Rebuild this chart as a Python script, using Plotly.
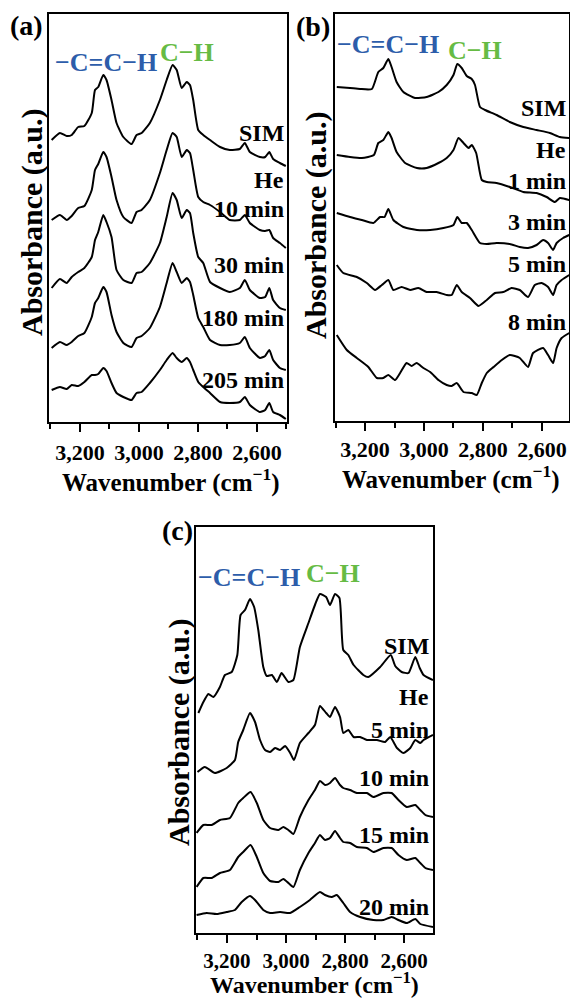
import plotly.graph_objects as go

# ---------------- data ----------------
# Panel (a)
WN_A = [3296, 3268, 3245, 3228, 3206, 3185, 3160, 3149, 3138, 3121, 3110, 3093, 3076, 3053, 3025,
        3008, 2991, 2963, 2929, 2906, 2886, 2872, 2855, 2838, 2827, 2816, 2799, 2782, 2759, 2725,
        2692, 2658, 2641, 2624, 2590, 2572, 2558, 2545, 2522, 2502]
A_SIM = [282, 289, 286, 287, 295, 296, 309, 332, 335, 347, 342, 322, 299, 285, 278,
         287, 289, 299, 322, 342, 357, 352, 334, 340, 337, 322, 292, 287, 282, 275,
         272, 273, 279, 270, 265, 265, 270, 263, 259, 256]
A_10 = [202, 207, 202, 206, 214, 216, 232, 252, 258, 270, 265, 245, 222, 205, 199,
        210, 212, 222, 249, 272, 289, 285, 265, 272, 269, 252, 225, 220, 217, 210,
        202, 202, 207, 199, 192, 191, 192, 184, 179, 174]
A_30 = [134, 143, 139, 145, 150, 154, 165, 182, 190, 207, 200, 185, 152, 142, 139,
        149, 150, 159, 179, 205, 229, 222, 204, 212, 209, 189, 165, 159, 140, 134,
        130, 134, 142, 132, 124, 125, 134, 122, 114, 112]
A_180 = [74, 80, 77, 80, 86, 89, 105, 119, 124, 135, 130, 107, 90, 79, 75,
         84, 86, 94, 115, 139, 159, 150, 139, 144, 140, 127, 104, 95, 82, 77,
         77, 79, 85, 74, 64, 66, 72, 62, 54, 52]
A_205 = [32, 35, 33, 37, 36, 40, 47, 47, 48, 54, 51, 39, 29, 25, 22,
         29, 30, 39, 52, 62, 69, 64, 60, 64, 60, 52, 40, 35, 29, 20,
         19, 20, 25, 17, 10, 12, 19, 10, 7, 3]

# Panel (b)
WN_B_SIM = [3296, 3251, 3217, 3177, 3155, 3138, 3121, 3110, 3093, 3070, 3030, 2991, 2951, 2923, 2900,
            2887, 2872, 2855, 2838, 2827, 2810, 2793, 2754, 2709, 2663, 2618, 2573, 2539, 2507]
B_SIM = [334, 333, 332, 332, 349, 353, 362, 354, 339, 329, 323, 324, 329, 336, 346,
         357, 353, 345, 342, 336, 314, 311, 306, 299, 294, 291, 288, 284, 283]
WN_B_1 = [3296, 3251, 3211, 3170, 3155, 3138, 3121, 3110, 3093, 3064, 3024, 2991, 2951, 2923, 2900,
          2883, 2866, 2849, 2838, 2823, 2804, 2787, 2754, 2709, 2663, 2618, 2584, 2556, 2539, 2507]
B_1 = [266, 264, 263, 266, 278, 281, 289, 283, 269, 258, 253, 253, 258, 263, 271,
       283, 278, 273, 276, 268, 241, 239, 238, 234, 229, 228, 224, 219, 223, 221]
WN_B_3 = [3296, 3251, 3211, 3172, 3149, 3134, 3121, 3104, 3070, 3024, 2979, 2934, 2900, 2887, 2872,
          2855, 2838, 2810, 2787, 2754, 2709, 2675, 2647, 2618, 2596, 2579, 2562, 2550, 2528, 2507]
B_3 = [208, 204, 201, 198, 204, 204, 212, 201, 194, 191, 191, 193, 196, 204, 198,
       198, 191, 178, 177, 178, 177, 174, 173, 176, 181, 178, 171, 178, 183, 186]
WN_B_5 = [3296, 3274, 3228, 3194, 3166, 3143, 3121, 3104, 3076, 3047, 3019, 2991, 2957, 2923, 2906,
          2889, 2872, 2844, 2815, 2787, 2759, 2731, 2703, 2675, 2647, 2624, 2601, 2579, 2562, 2550,
          2533, 2507]
B_5 = [156, 148, 144, 138, 131, 136, 141, 131, 134, 131, 133, 129, 129, 126, 126,
       136, 129, 123, 115, 121, 128, 129, 133, 131, 124, 136, 138, 134, 126, 136,
       141, 146]
WN_B_8 = [3296, 3262, 3228, 3189, 3160, 3138, 3121, 3098, 3081, 3059, 3042, 3025, 3002, 2979, 2951,
          2923, 2906, 2889, 2866, 2838, 2821, 2804, 2787, 2764, 2736, 2709, 2675, 2647, 2630, 2596,
          2579, 2562, 2550, 2533, 2507]
B_8 = [86, 71, 63, 54, 43, 43, 46, 41, 48, 58, 55, 58, 53, 49, 41,
       36, 35, 38, 29, 28, 26, 38, 48, 54, 61, 66, 63, 54, 68, 73,
       66, 58, 73, 83, 88]

# Panel (c)
WN_C_SIM = [3297, 3280, 3263, 3246, 3224, 3207, 3184, 3165, 3154, 3139, 3122, 3108, 3094, 3077, 3065,
            3048, 3031, 3015, 2992, 2975, 2953, 2924, 2902, 2885, 2864, 2851, 2834, 2819, 2806, 2789,
            2771, 2738, 2721, 2681, 2645, 2630, 2608, 2585, 2562, 2547, 2534, 2502]
C_SIM = [220, 231, 239, 236, 246, 258, 261, 278, 318, 323, 334, 326, 303, 266, 257,
         258, 251, 260, 251, 253, 286, 310, 328, 339, 336, 328, 339, 335, 283, 278,
         268, 258, 256, 266, 278, 267, 261, 260, 276, 265, 258, 253]
WN_C_5 = [3300, 3275, 3241, 3201, 3173, 3162, 3145, 3122, 3105, 3088, 3071, 3054, 3037, 3020, 3003,
          2986, 2973, 2953, 2924, 2902, 2885, 2864, 2851, 2834, 2817, 2806, 2789, 2771, 2749, 2726,
          2692, 2664, 2647, 2624, 2602, 2579, 2562, 2545, 2534, 2502]
C_5 = [161, 166, 160, 165, 173, 191, 203, 220, 211, 193, 183, 181, 185, 183, 187,
       180, 173, 190, 200, 208, 227, 220, 216, 226, 216, 200, 203, 196, 196, 193,
       193, 191, 196, 185, 180, 185, 193, 190, 193, 198]
WN_C_10 = [3303, 3280, 3252, 3224, 3190, 3162, 3145, 3120, 3099, 3077, 3054, 3026, 3009, 2992, 2975,
           2953, 2924, 2902, 2885, 2868, 2851, 2834, 2817, 2806, 2783, 2760, 2726, 2704, 2670, 2642,
           2619, 2591, 2562, 2545, 2528, 2502]
C_10 = [100, 108, 108, 113, 115, 130, 135, 141, 130, 113, 105, 103, 106, 103, 99,
        116, 133, 143, 152, 148, 150, 155, 148, 145, 143, 140, 140, 136, 140, 140,
        133, 126, 128, 123, 118, 116]
C_15 = [46, 55, 55, 60, 63, 76, 81, 88, 76, 60, 52, 51, 54, 50, 46,
        63, 80, 90, 98, 93, 95, 102, 95, 91, 90, 86, 85, 81, 85, 85,
        78, 73, 75, 70, 65, 63]
WN_C_20 = [3303, 3269, 3235, 3201, 3173, 3150, 3122, 3105, 3077, 3054, 3020, 2986, 2953, 2919, 2885,
           2868, 2845, 2828, 2806, 2783, 2749, 2704, 2670, 2642, 2619, 2591, 2562, 2545, 2502]
C_20 = [18, 20, 19, 21, 23, 31, 37, 33, 23, 20, 21, 20, 26, 33, 41,
        38, 36, 38, 30, 21, 16, 13, 13, 16, 13, 10, 14, 9, 6]

TICK_VALS = [3200, 3000, 2800, 2600]
TICK_TEXT = ["3,200", "3,000", "2,800", "2,600"]
MINOR_VALS = [3300, 3100, 2900, 2700, 2500]

LABELS_A = ["SIM", "He", "10 min", "30 min", "180 min", "205 min"]
LABELS_B = ["SIM", "He", "1 min", "3 min", "5 min", "8 min"]
LABELS_C = ["SIM", "He", "5 min", "10 min", "15 min", "20 min"]

# ---------------- layout helpers ----------------
W, H = 570, 999
FONT = "Liberation Serif"
BLUE = "#2D5DAA"
GREEN = "#66BB44"


def fx(x):
    return x / W


def fy(y):
    return 1 - y / H


fig = go.Figure()

series = [
    ("x", "y", [(WN_A, A_SIM), (WN_A, A_10), (WN_A, A_30), (WN_A, A_180), (WN_A, A_205)]),
    ("x2", "y2", [(WN_B_SIM, B_SIM), (WN_B_1, B_1), (WN_B_3, B_3), (WN_B_5, B_5), (WN_B_8, B_8)]),
    ("x3", "y3", [(WN_C_SIM, C_SIM), (WN_C_5, C_5), (WN_C_10, C_10), (WN_C_10, C_15), (WN_C_20, C_20)]),
]
for xa, ya, curves in series:
    for wn, ab in curves:
        fig.add_trace(go.Scatter(x=wn, y=ab, xaxis=xa, yaxis=ya, mode="lines",
                                 line=dict(color="black", width=2, shape="spline", smoothing=0.5),
                                 showlegend=False, hoverinfo="skip"))

# panel boxes (px coordinates)
boxes = {
    "a": dict(l=49, r=287, t=14, b=422, xr=[3305, 2498], yr=[0, 408], so=2, fs=22),
    "b": dict(l=335, r=569, t=14, b=421, xr=[3302, 2508], yr=[0, 407], so=0, fs=22),
    "c": dict(l=196, r=433, t=527, b=933, xr=[3305, 2502], yr=[0, 406], so=0, fs=21),
}
axis_names = {"a": ("xaxis", "yaxis", "y", "x"), "b": ("xaxis2", "yaxis2", "y2", "x2"),
              "c": ("xaxis3", "yaxis3", "y3", "x3")}

layout_axes = {}
for key, bx in boxes.items():
    xn, yn, yref, xref = axis_names[key]
    layout_axes[xn] = dict(
        domain=[fx(bx["l"]), fx(bx["r"])], range=bx["xr"], anchor=yref,
        showline=True, mirror=True, linecolor="black", linewidth=2,
        showgrid=False, zeroline=False,
        tickvals=TICK_VALS, ticktext=TICK_TEXT, ticks="outside", ticklen=8, tickwidth=2,
        tickcolor="black", ticklabelstandoff=bx["so"],
        tickfont=dict(family=FONT, size=bx["fs"], color="black", weight="bold"),
        minor=dict(tickvals=MINOR_VALS, ticks="outside", ticklen=5, tickwidth=2, tickcolor="black"),
    )
    layout_axes[yn] = dict(
        domain=[fy(bx["b"]), fy(bx["t"])], range=bx["yr"], anchor=xref,
        showline=True, mirror=True, linecolor="black", linewidth=2,
        showgrid=False, zeroline=False, ticks="", showticklabels=False,
    )

annotations = []


def ann(text, x, y, size, color="black", xanchor="center", angle=0, yanchor="middle"):
    annotations.append(dict(text=text, x=fx(x), y=fy(y), xref="paper", yref="paper",
                            showarrow=False, xanchor=xanchor, yanchor=yanchor, textangle=angle,
                            font=dict(family=FONT, size=size, color=color, weight="bold")))


# panel letters
ann("(a)", 26, 26, 28)
ann("(b)", 313, 27, 28)
ann("(c)", 177, 530, 28)

# band headers
ann("−C=C−H", 106, 62, 26, BLUE)
ann("C−H", 187, 52, 26, GREEN)
ann("−C=C−H", 388, 45, 26, BLUE)
ann("C−H", 475, 51, 26, GREEN)
ann("−C=C−H", 249, 577, 26, BLUE)
ann("C−H", 333, 573, 26, GREEN)

# curve labels
for lab, yy in zip(LABELS_A, [133, 180, 209, 265, 318, 380]):
    ann(lab, 286, yy, 24, xanchor="right")
for lab, yy in zip(LABELS_B, [108, 150, 181, 222, 264, 322]):
    ann(lab, 568, yy, 24, xanchor="right")
for lab, yy in zip(LABELS_C, [646, 697, 730, 778, 835, 907]):
    ann(lab, 431, yy, 24, xanchor="right")

# axis titles
XT = "Wavenumber (cm<sup>−1</sup>)"
ann(XT, 171, 480, 25)
ann(XT, 451, 477, 25)
ann(XT, 314, 1000, 24, yanchor="bottom")
YT = "Absorbance (a.u.)"
ann(YT, 32, 222, 30, angle=-90)
ann(YT, 316, 225, 30, angle=-90)
ann(YT, 179, 732, 30, angle=-90)

fig.update_layout(
    width=W, height=H, margin=dict(l=0, r=0, t=0, b=0),
    paper_bgcolor="white", plot_bgcolor="white",
    annotations=annotations, showlegend=False,
    **layout_axes,
)

fig.write_html("out.html")
